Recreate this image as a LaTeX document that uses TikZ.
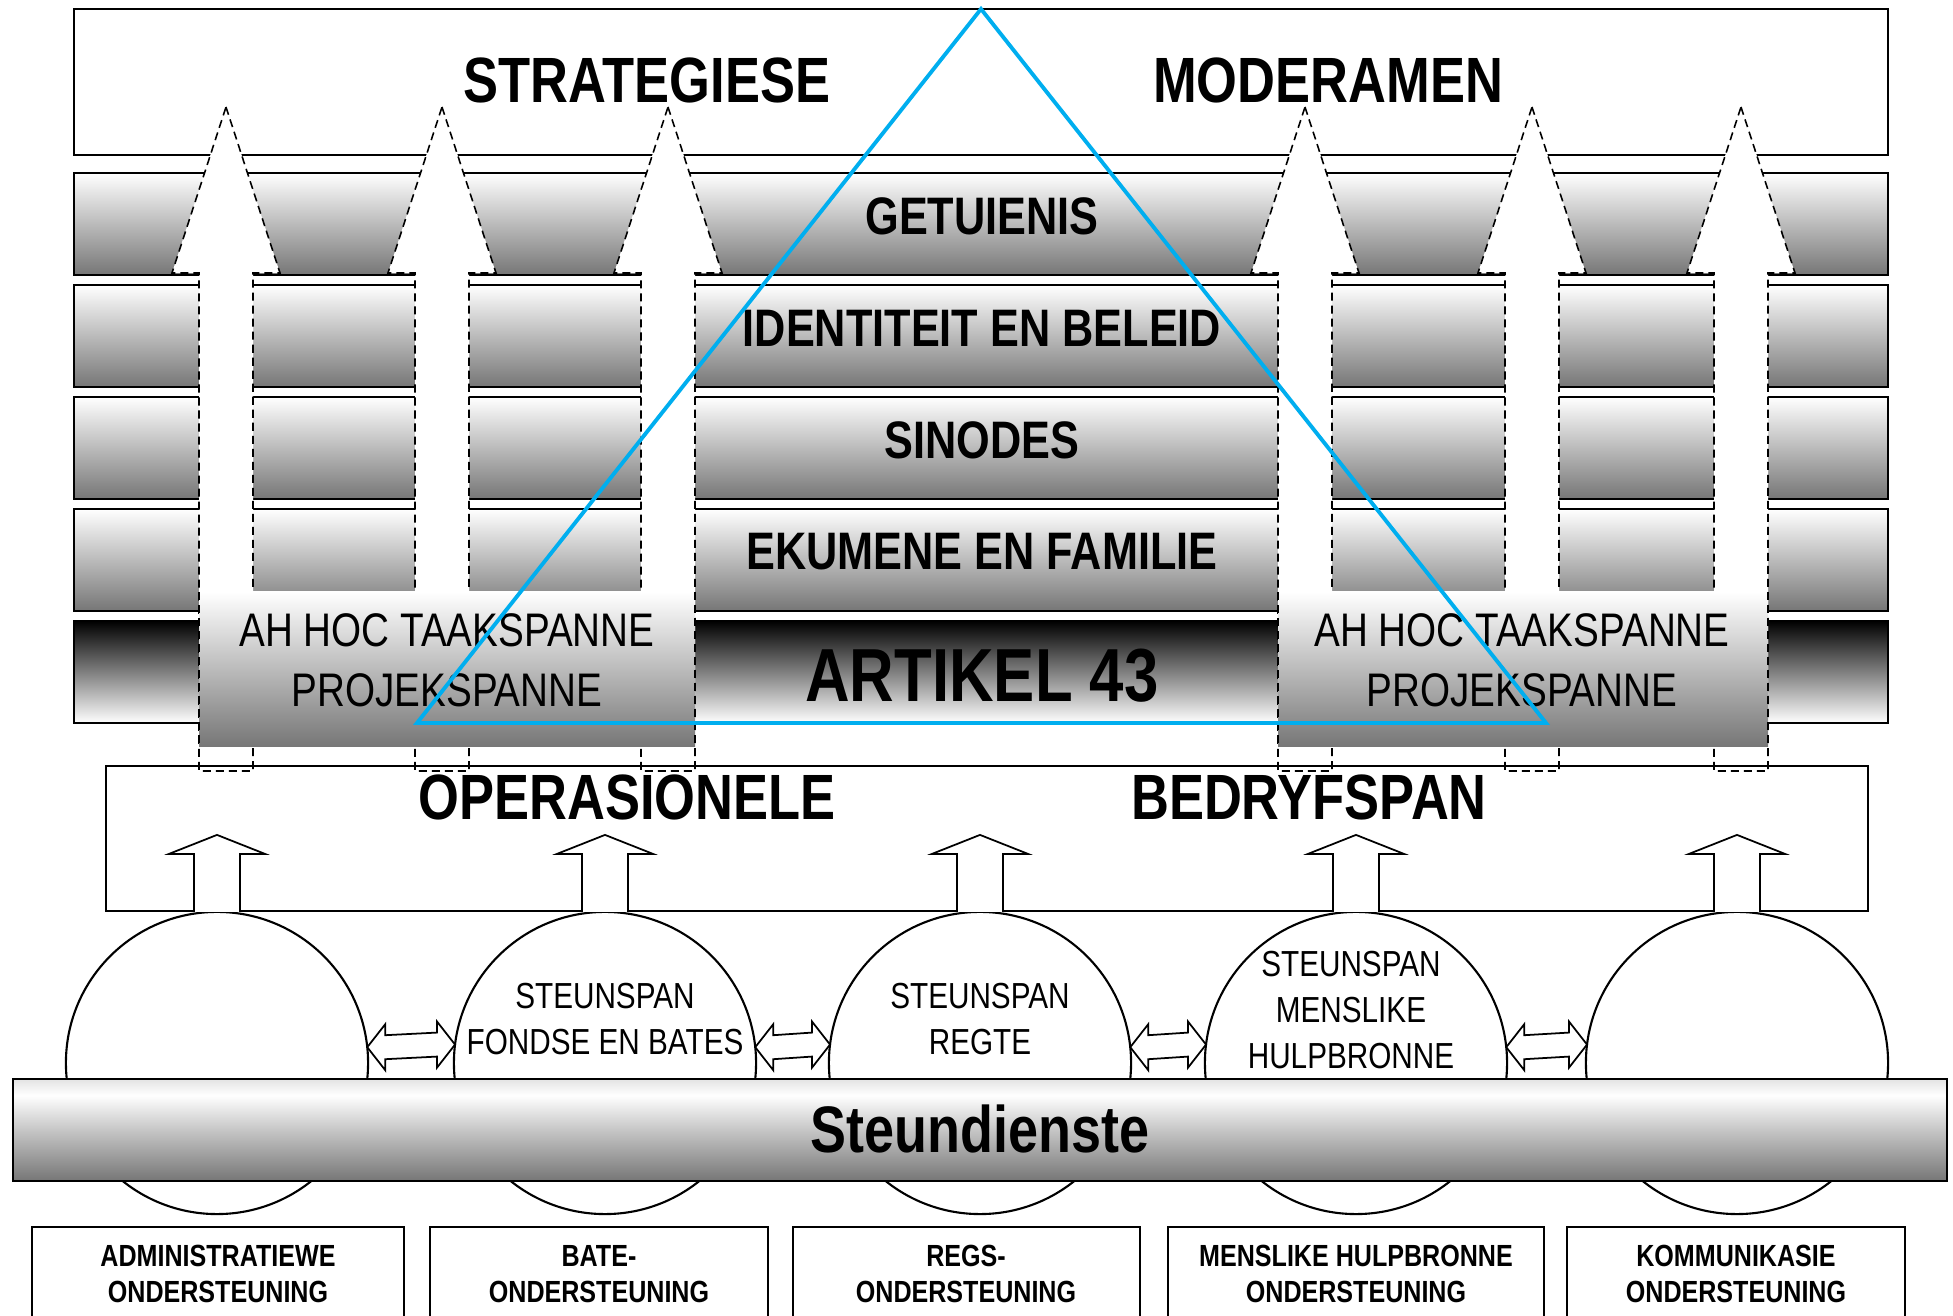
\documentclass[tikz,border=0pt]{standalone}
\usepackage{fontspec}
\setmainfont{Liberation Sans}[FakeStretch=0.82]
\usetikzlibrary{calc}

\definecolor{bandgray}{HTML}{767676}
\definecolor{triblue}{HTML}{00AEEF}

\pgfdeclareverticalshading{railshade}{100bp}{color(0bp)=(bandgray); color(25bp)=(bandgray); color(50bp)=(gray!45); color(67bp)=(white); color(75bp)=(gray!22); color(100bp)=(gray!22)}

\tikzset{
  frame/.style={draw=black, line width=0.6pt},
  bandbox/.style={frame, top color=white, bottom color=bandgray},
  lawbox/.style={frame, top color=black, middle color=black!30, bottom color=white},
  taskbox/.style={top color=white, bottom color=bandgray},
  flowline/.style={draw=black, line width=0.45pt, dash pattern=on 2.3pt off 1.4pt},
  flowarrow/.style={flowline, fill=white},
  blockarrow/.style={draw=black, line width=0.5pt, fill=white},
  railbox/.style={frame, shade, shading=railshade},
  steun/.style={circle, draw=black, line width=0.6pt, minimum size=3.02cm, inner sep=0pt, outer sep=0pt},
  txt/.style={inner sep=0pt, outer sep=0pt},
  title/.style={txt, font=\bfseries\fontsize{18.2}{20}\selectfont},
  layer/.style={txt, font=\bfseries\fontsize{15}{17}\selectfont},
  law/.style={txt, font=\bfseries\fontsize{21.4}{24}\selectfont},
  team/.style={txt, align=center, font=\fontsize{13.4}{17.07}\selectfont},
  steunlabel/.style={txt, align=center, font=\fontsize{10.3}{13}\selectfont},
  rail/.style={txt, font=\bfseries\fontsize{18.7}{22}\selectfont},
  support/.style={txt, align=center, font=\bfseries\fontsize{8.7}{10.2}\selectfont}
}

% block arrow with a head at both ends, between two points
\newcommand{\linkarrow}[2]{%
  \draw[blockarrow] (#1) -- ++(18,-23) -- ++(0,11) -- ($(#2)+(-18,-12)$) -- ++(0,-11) -- (#2)
    -- ++(-18,23) -- ++(0,-11) -- ($(#1)+(18,12)$) -- ++(0,11) -- cycle;}

\begin{document}
\begin{tikzpicture}[x=0.01cm, y=-0.01cm]
\clip (0,0) rectangle (1953,1316);

% strategic level
\draw[frame] (74,9) rectangle (1888,155);
\foreach \ytop in {173,285,397,509} {
  \draw[bandbox] (74,\ytop) rectangle (1888,\ytop+102);
}
\draw[lawbox] (74,621) rectangle (1888,723);

% dashed arrows up through the layers
\foreach \cx in {226,442,668,1305,1532,1741} {
  \draw[flowarrow] (\cx,107) -- ++(54,166) -- ++(-27,0) -- ++(0,498) -- ++(-54,0) -- ++(0,-498) -- ++(-27,0) -- cycle;
}

% task teams
\shade[taskbox] (199,592) rectangle (695,747);
\draw[flowline] (199,592) -- (199,747) (695,592) -- (695,747);
\shade[taskbox] (1278,592) rectangle (1768,747);
\draw[flowline] (1278,592) -- (1278,747) (1768,592) -- (1768,747);

\node[title] (strategiese) at (647,80) {STRATEGIESE};
\node[title] (moderamen) at (1328,80) {MODERAMEN};
\node[layer] (getuienis) at (982,216) {GETUIENIS};
\node[layer] (identiteit) at (982,328) {IDENTITEIT EN BELEID};
\node[layer] (sinodes) at (982,440) {SINODES};
\node[layer] (ekumene) at (982,552) {EKUMENE EN FAMILIE};
\node[law] (artikel) at (982,676) {ARTIKEL 43};
\node[team] (taskleft) at (447,660) {AH HOC TAAKSPANNE\\PROJEKSPANNE};
\node[team] (taskright) at (1522,660) {AH HOC TAAKSPANNE\\PROJEKSPANNE};

\draw[triblue, line width=1.1pt] (981,9) -- (1546,723) -- (417,723) -- cycle;

% operational level
\draw[frame] (106,766) rectangle (1868,911);
\node[title] (operasionele) at (627,797) {OPERASIONELE};
\node[title] (bedryfspan) at (1309,797) {BEDRYFSPAN};

\node[steun] (s1) at (217,1063) {};
\node[steun] (s2) at (605,1063) {};
\node[steun] (s3) at (980,1063) {};
\node[steun] (s4) at (1356,1063) {};
\node[steun] (s5) at (1737,1063) {};

\foreach \s in {s1,s2,s3,s4,s5} {
  \draw[blockarrow] (\s.north) ++(-23,0) -- ++(0,-58) -- ++(-25,0) -- ++(48,-19) -- ++(48,19) -- ++(-25,0) -- ++(0,58);
}
\linkarrow{s1.6.5}{s2.173.5}
\linkarrow{s2.6.5}{s3.173.5}
\linkarrow{s3.6.5}{s4.173.5}
\linkarrow{s4.6.5}{s5.173.5}

\node[steunlabel] (fondse) at (605,1019) {STEUNSPAN\\FONDSE EN BATES};
\node[steunlabel] (regte) at (980,1019) {STEUNSPAN\\REGTE};
\node[steunlabel] (menslike) at (1351,1010) {STEUNSPAN\\MENSLIKE\\HULPBRONNE};

% support services
\draw[railbox] (13,1079) rectangle (1947,1181);
\node[rail] (steundienste) at (980,1129) {Steundienste};

\foreach \l/\r in {32/404, 430/768, 793/1140, 1168/1544, 1567/1905} {
  \draw[frame] (\l,1340) -- (\l,1227) -- (\r,1227) -- (\r,1340);
}
\node[support] (admin) at (218,1274) {ADMINISTRATIEWE\\ONDERSTEUNING};
\node[support] (bate) at (599,1274) {BATE-\\ONDERSTEUNING};
\node[support] (regs) at (966,1274) {REGS-\\ONDERSTEUNING};
\node[support] (hulp) at (1356,1274) {MENSLIKE HULPBRONNE\\ONDERSTEUNING};
\node[support] (kommunikasie) at (1736,1274) {KOMMUNIKASIE\\ONDERSTEUNING};
\end{tikzpicture}
\end{document}
